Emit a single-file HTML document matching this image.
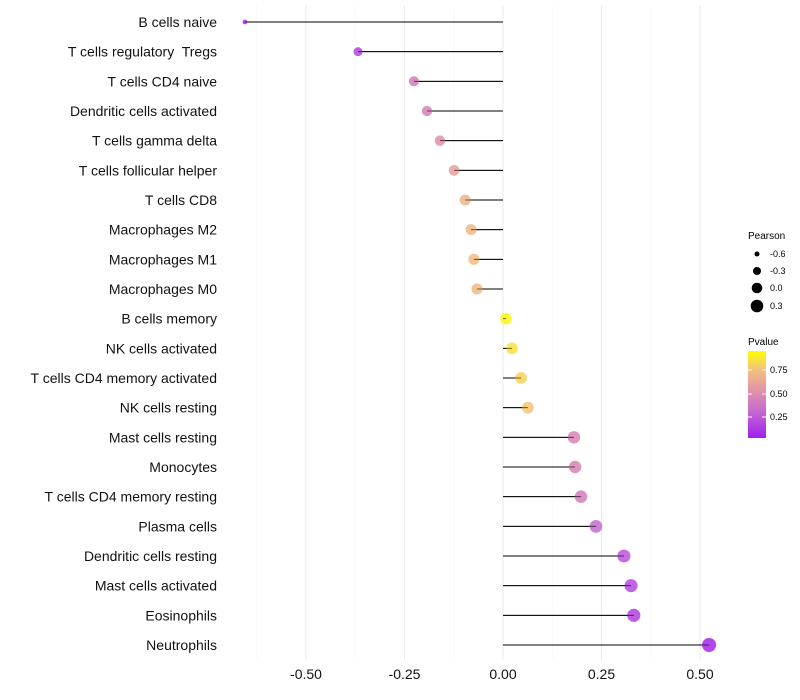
<!DOCTYPE html>
<html><head><meta charset="utf-8"><style>
body{margin:0;background:#fff;font-family:"Liberation Sans",sans-serif}
svg{display:block}
text{white-space:pre}
</style></head><body>
<svg id="chart" width="800" height="700">
<defs><linearGradient id="pg" x1="0" y1="1" x2="0" y2="0">
<stop offset="0" stop-color="#a020f0"/><stop offset="0.3" stop-color="#c468d0"/><stop offset="0.55" stop-color="#e294a8"/><stop offset="0.8" stop-color="#f4c478"/><stop offset="1" stop-color="#ffff00"/></linearGradient></defs>
<g id="grid"></g><g id="marks"></g><g id="ylab"></g><g id="xlab"></g>
<g font-size="9">
<text x="748" y="239" font-size="10">Pearson</text>
<circle cx="757" cy="254" r="2.5"/><text x="770" y="257">-0.6</text>
<circle cx="757" cy="271" r="4"/><text x="770" y="274">-0.3</text>
<circle cx="757" cy="288" r="5.3"/><text x="770" y="291">0.0</text>
<circle cx="757" cy="306" r="6.3"/><text x="770" y="309">0.3</text>
</g>
<g font-size="9">
<text x="748" y="345" font-size="10">Pvalue</text>
<rect x="748" y="351" width="18" height="87" fill="url(#pg)"/>
<g stroke="#fff" stroke-width="1"><line x1="748" y1="370" x2="752" y2="370"/><line x1="762" y1="370" x2="766" y2="370"/><line x1="748" y1="394" x2="752" y2="394"/><line x1="762" y1="394" x2="766" y2="394"/><line x1="748" y1="417" x2="752" y2="417"/><line x1="762" y1="417" x2="766" y2="417"/></g>
<text x="770" y="373">0.75</text>
<text x="770" y="397">0.50</text>
<text x="770" y="420">0.25</text>
</g>
</svg>
<script>
const categories=["B cells naive","T cells regulatory  Tregs","T cells CD4 naive","Dendritic cells activated","T cells gamma delta","T cells follicular helper","T cells CD8","Macrophages M2","Macrophages M1","Macrophages M0","B cells memory","NK cells activated","T cells CD4 memory activated","NK cells resting","Mast cells resting","Monocytes","T cells CD4 memory resting","Plasma cells","Dendritic cells resting","Mast cells activated","Eosinophils","Neutrophils"];
const pearson=[-0.655,-0.368,-0.226,-0.193,-0.160,-0.124,-0.096,-0.081,-0.074,-0.066,0.008,0.023,0.046,0.063,0.180,0.183,0.198,0.236,0.307,0.325,0.332,0.523];
const pvalue=[0.03,0.15,0.42,0.46,0.52,0.62,0.72,0.74,0.76,0.75,0.97,0.9,0.85,0.8,0.47,0.46,0.42,0.32,0.22,0.17,0.14,0.03];
const xTicks=[-0.5,-0.25,0,0.25,0.5];
const xTickLabels=["-0.50","-0.25","0.00","0.25","0.50"];
const NS="http://www.w3.org/2000/svg";
const xs=v=>503+v*394;
const ys=i=>22+i*(623/21);
const rs=v=>2+5*Math.sqrt(Math.max(0,(v+0.66)/1.18));
const stops=[[0,[160,32,240]],[0.3,[196,104,208]],[0.55,[226,148,168]],[0.8,[244,196,120]],[1,[255,255,0]]];
function col(p){for(let k=1;k<stops.length;k++){if(p<=stops[k][0]){const a=stops[k-1],b=stops[k],t=(p-a[0])/(b[0]-a[0]);return `rgb(${a[1].map((c,j)=>Math.round(c+(b[1][j]-c)*t)).join(',')})`;}}return 'rgb(255,255,0)';}
function mk(t,at,parent){const e=document.createElementNS(NS,t);for(const k in at)e.setAttribute(k,at[k]);parent.appendChild(e);return e;}
const grid=document.getElementById('grid'),marks=document.getElementById('marks'),yl=document.getElementById('ylab'),xl=document.getElementById('xlab');
[-0.625,-0.375,-0.125,0.125,0.375].forEach(v=>{const l=mk('line',{x1:xs(v),x2:xs(v),y1:5,y2:660,stroke:'#f6f6f6','stroke-width':0.6},grid);

});
xTicks.forEach((v,i)=>{const l=mk('line',{x1:xs(v),x2:xs(v),y1:5,y2:660,stroke:'#ebebeb','stroke-width':1},grid);


const t=mk('text',{x:xs(v),y:679,'text-anchor':'middle','font-size':14,fill:'#111'},xl);t.textContent=xTickLabels[i];

});
categories.forEach((c,i)=>{const y=ys(i);
const t=mk('text',{x:217,y:y+5,'text-anchor':'end','font-size':14,fill:'#111'},yl);t.textContent=c;


const l=mk('line',{x1:xs(0),x2:xs(pearson[i]),y1:y,y2:y,stroke:'#000','stroke-width':1},marks);


const ci=mk('circle',{cx:xs(pearson[i]),cy:y,r:rs(pearson[i]),fill:col(pvalue[i]),'fill-opacity':0.85},marks);


const l2=mk('line',{x1:xs(0),x2:xs(pearson[i]),y1:y,y2:y,stroke:'#000','stroke-width':0.8,'stroke-opacity':0.6},marks);

});
</script>
</body></html>
